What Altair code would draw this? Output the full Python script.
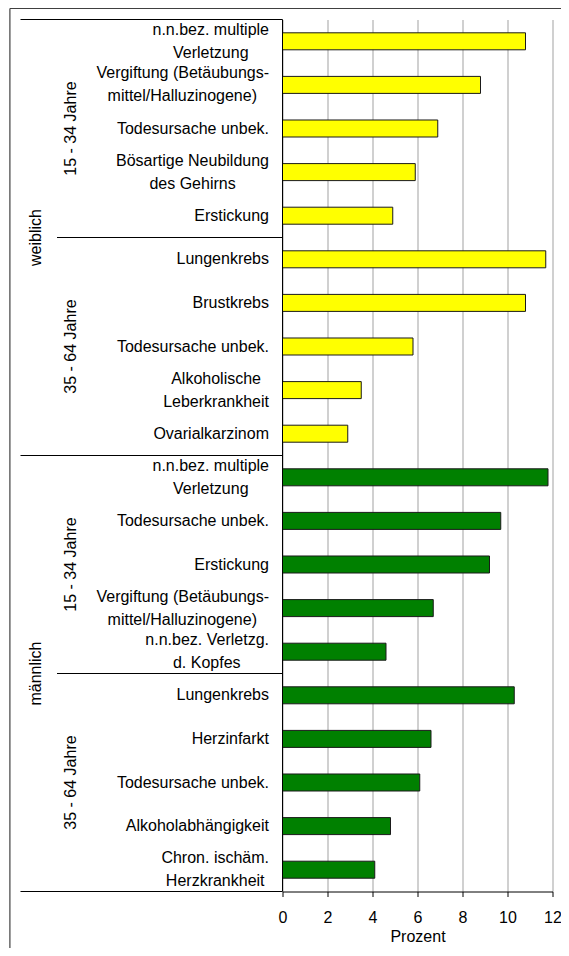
import altair as alt
import pandas as pd

# ---------------- data ----------------
sexes = ["weiblich", "männlich"]
age_groups = ["15 - 34 Jahre", "35 - 64 Jahre"]
causes = [
    "n.n.bez. multiple|Verletzung",
    "Vergiftung (Betäubungs-|mittel/Halluzinogene)",
    "Todesursache unbek.",
    "Bösartige Neubildung|des Gehirns",
    "Erstickung",
    "Lungenkrebs",
    "Brustkrebs",
    "Todesursache unbek.",
    "Alkoholische|Leberkrankheit",
    "Ovarialkarzinom",
    "n.n.bez. multiple|Verletzung",
    "Todesursache unbek.",
    "Erstickung",
    "Vergiftung (Betäubungs-|mittel/Halluzinogene)",
    "n.n.bez. Verletzg.|d. Kopfes",
    "Lungenkrebs",
    "Herzinfarkt",
    "Todesursache unbek.",
    "Alkoholabhängigkeit",
    "Chron. ischäm.|Herzkrankheit",
]
values = [10.8, 8.8, 6.9, 5.9, 4.9, 11.7, 10.8, 5.8, 3.5, 2.9,
          11.8, 9.7, 9.2, 6.7, 4.6, 10.3, 6.6, 6.1, 4.8, 4.1]
x_ticks = [0, 2, 4, 6, 8, 10, 12]
x_title = "Prozent"
bar_colors = ["#FFFF00", "#008000"]

# ---------------- layout / style ----------------
W, H = 270, 872
ROWS = len(causes)
ROWPX = H / ROWS
FONT = "Liberation Sans"
FS = 16
LINE = 23
LABEL_RIGHT = -13.5

ARIAL = {' ': 278, '.': 278, '-': 333, '/': 278, '(': 333, ')': 333,
         'a': 556, 'b': 556, 'c': 500, 'd': 556, 'e': 556, 'f': 278, 'g': 556,
         'h': 556, 'i': 222, 'j': 222, 'k': 500, 'l': 222, 'm': 833, 'n': 556,
         'o': 556, 'p': 556, 'r': 333, 's': 500, 't': 278, 'u': 556, 'v': 500,
         'w': 722, 'z': 500, 'ä': 556, 'ö': 556, 'ü': 556,
         'A': 667, 'B': 667, 'C': 722, 'D': 722, 'E': 667, 'G': 778, 'H': 722,
         'K': 667, 'L': 556, 'N': 722, 'O': 778, 'T': 611, 'V': 667}


def text_w(s):
    return sum(ARIAL.get(ch, 556) for ch in s) * FS / 1000


bars = pd.DataFrame({
    "row": list(range(ROWS)),
    "value": values,
    "sex": [sexes[i // 10] for i in range(ROWS)],
})

long_rows, short_rows = [], []
for i, c in enumerate(causes):
    lines = c.split("|")
    n = len(lines)
    wl = max(text_w(l) for l in lines)
    for k, l in enumerate(lines):
        yy = i + 0.5 + (k - (n - 1) / 2) * LINE / ROWPX
        if text_w(l) >= wl - 0.01:
            long_rows.append({"text": l, "yy": yy})
        else:
            short_rows.append({"text": l, "yy": yy, "px": LABEL_RIGHT - wl / 2})
long_df = pd.DataFrame(long_rows)
short_df = pd.DataFrame(short_rows)

age_df = pd.DataFrame({"text": age_groups * 2, "yy": [2.5, 7.5, 12.5, 17.5]})
sex_df = pd.DataFrame({"text": sexes, "yy": [5, 15]})
sep_outer = pd.DataFrame({"row": [0, 10, 20]})
sep_inner = pd.DataFrame({"row": [5, 15]})
one = pd.DataFrame({"a": [0]})

xs = alt.Scale(domain=[0, 12], nice=False, zero=False)
ys = alt.Scale(domain=[0, ROWS], reverse=True, nice=False, zero=False)

bar_layer = alt.Chart(bars).transform_calculate(
    y0="datum.row + 0.305", y1="datum.row + 0.695"
).mark_rect(stroke="#1a1a1a", strokeWidth=1).encode(
    x=alt.X("value:Q", scale=xs,
            axis=alt.Axis(values=x_ticks, title=x_title, grid=True, format="d",
                          labelFlush=False)),
    x2=alt.datum(0),
    y=alt.Y("y0:Q", scale=ys, axis=None),
    y2="y1:Q",
    color=alt.Color("sex:N", scale=alt.Scale(domain=sexes, range=bar_colors), legend=None),
)

yaxis_rule = alt.Chart(one).mark_rule(color="black", strokeWidth=1).encode(
    x=alt.datum(0), y=alt.value(0), y2=alt.value(H)
)

sep_o = alt.Chart(sep_outer).mark_rule(color="black", strokeWidth=1).encode(
    x=alt.value(-262), x2=alt.value(0), y=alt.Y("row:Q", scale=ys, axis=None)
)
sep_i = alt.Chart(sep_inner).mark_rule(color="black", strokeWidth=1).encode(
    x=alt.value(-225.5), x2=alt.value(0), y=alt.Y("row:Q", scale=ys, axis=None)
)

txt_long = alt.Chart(long_df).mark_text(
    align="right", baseline="middle", font=FONT, fontSize=FS, color="black"
).encode(x=alt.value(LABEL_RIGHT), y=alt.Y("yy:Q", scale=ys, axis=None), text="text:N")

txt_short = alt.Chart(short_df).mark_text(
    align="center", baseline="middle", font=FONT, fontSize=FS, color="black"
).encode(x=alt.X("px:Q", scale=None), y=alt.Y("yy:Q", scale=ys, axis=None), text="text:N")

txt_age = alt.Chart(age_df).mark_text(
    align="center", baseline="middle", angle=270, font=FONT, fontSize=FS, color="black"
).encode(x=alt.value(-212), y=alt.Y("yy:Q", scale=ys, axis=None), text="text:N")

txt_sex = alt.Chart(sex_df).mark_text(
    align="center", baseline="middle", angle=270, font=FONT, fontSize=FS, color="black"
).encode(x=alt.value(-247), y=alt.Y("yy:Q", scale=ys, axis=None), text="text:N")

frame_left = alt.Chart(one).mark_rule(color="#404040", strokeWidth=1.2).encode(
    x=alt.value(-272.6), y=alt.value(-11), y2=alt.value(H + 100)
)
frame_top = alt.Chart(one).mark_rule(color="#404040", strokeWidth=1.2).encode(
    x=alt.value(-272.6), x2=alt.value(W + 60), y=alt.value(-11)
)

chart = alt.layer(
    bar_layer, yaxis_rule, sep_o, sep_i, txt_long, txt_short, txt_age, txt_sex,
    frame_left, frame_top
).properties(
    width=W, height=H,
    padding={"left": 274.5, "top": 11.5, "right": 8.5, "bottom": 56.5},
    autosize=alt.AutoSizeParams(type="none"),
).configure_view(stroke=None).configure_axis(
    domainColor="black", tickColor="black", tickSize=5,
    labelFont=FONT, labelFontSize=FS, labelColor="black", labelPadding=13,
    titleFont=FONT, titleFontSize=FS, titleFontWeight="normal", titleColor="black",
    titlePadding=3, gridColor="#c0c0c0", gridWidth=1.5,
)

chart.save("out.html", embed_options={"renderer": "svg", "actions": False})
